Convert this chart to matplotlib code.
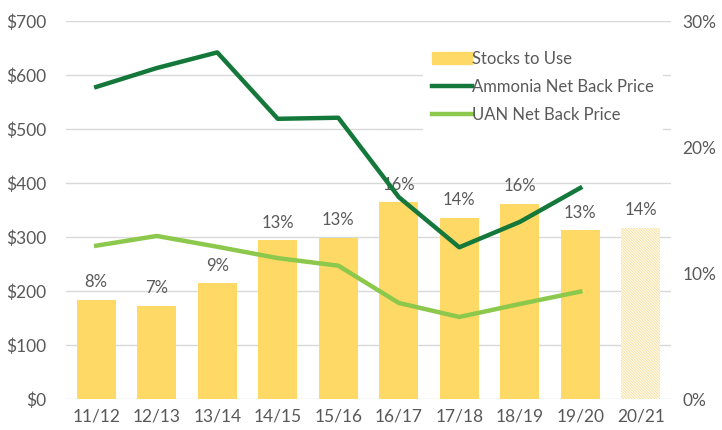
import numpy as np
import matplotlib.pyplot as plt
from matplotlib.ticker import FuncFormatter
from matplotlib.lines import Line2D
from matplotlib.patches import Patch

plt.rcParams['font.family'] = ['Lato', 'DejaVu Sans']
plt.rcParams['hatch.linewidth'] = 0.7

seasons = ['11/12', '12/13', '13/14', '14/15', '15/16', '16/17', '17/18', '18/19', '19/20', '20/21']
stocks_to_use = [7.9, 7.4, 9.2, 12.6, 12.8, 15.6, 14.4, 15.5, 13.4, 13.6]
ammonia = [578, 613, 642, 519, 521, 374, 281, 328, 391]
uan = [284, 302, 282, 261, 247, 178, 152, 176, 199]

gold = '#ffd966'
dark_green = '#14783a'
light_green = '#8cc84b'
txt = '#595959'

fig = plt.figure(figsize=(7.22, 4.30), dpi=100)
ax = fig.add_axes([0.0914, 0.072, 0.838, 0.879])
ax2 = ax.twinx()

x = np.arange(len(seasons))

# bars on the right (percent) axis, last season is a forecast -> hatched
ax2.bar(x[:-1], stocks_to_use[:-1], width=0.65, color=gold, zorder=2)
ax2.bar(x[-1], stocks_to_use[-1], width=0.65, color='#fffdf4', edgecolor='#f6e2a4',
        linewidth=0, hatch='\\' * 12, zorder=2)
for xi, v in zip(x, stocks_to_use):
    ax2.text(xi, v + 0.75, f'{round(v)}%', ha='center', va='bottom', fontsize=12, color=txt, zorder=3)

ax2.plot(x[:len(ammonia)], np.array(ammonia) / 700 * 30, color=dark_green, lw=3.2, zorder=4)
ax2.plot(x[:len(uan)], np.array(uan) / 700 * 30, color=light_green, lw=3.2, zorder=4)

ax.set_xlim(-0.5, len(seasons) - 0.5)
ax.set_ylim(0, 700)
ax.set_yticks(range(0, 701, 100))
ax.yaxis.set_major_formatter(FuncFormatter(lambda v, p: f'${v:.0f}'))
ax.grid(axis='y', color='#d9d9d9', lw=1)
ax.set_axisbelow(True)
ax.set_xticks(x)
ax.set_xticklabels(seasons)

ax2.set_ylim(0, 30)
ax2.set_yticks([0, 10, 20, 30])
ax2.yaxis.set_major_formatter(FuncFormatter(lambda v, p: f'{v:.0f}%'))

for a in (ax, ax2):
    for s in a.spines.values():
        s.set_visible(False)
    a.tick_params(length=0, labelsize=12.5, colors=txt)
ax.tick_params(axis='y', pad=14)
ax.tick_params(axis='x', pad=7)
ax2.tick_params(axis='y', pad=8)

handles = [Patch(color=gold),
           Line2D([], [], color=dark_green, lw=3.2),
           Line2D([], [], color=light_green, lw=3.2)]
leg = ax2.legend(handles, ['Stocks to Use', 'Ammonia Net Back Price', 'UAN Net Back Price'],
                 loc='upper right', bbox_to_anchor=(1.0, 0.965), frameon=True, fancybox=False,
                 edgecolor='white', facecolor='white', framealpha=1, fontsize=12,
                 handlelength=2.4, handletextpad=0.05, labelspacing=0.72, borderpad=0.5,
                 labelcolor=txt)
leg.set_zorder(5)
leg.get_frame().set_linewidth(0)

fig.savefig('out.png', dpi=100)
